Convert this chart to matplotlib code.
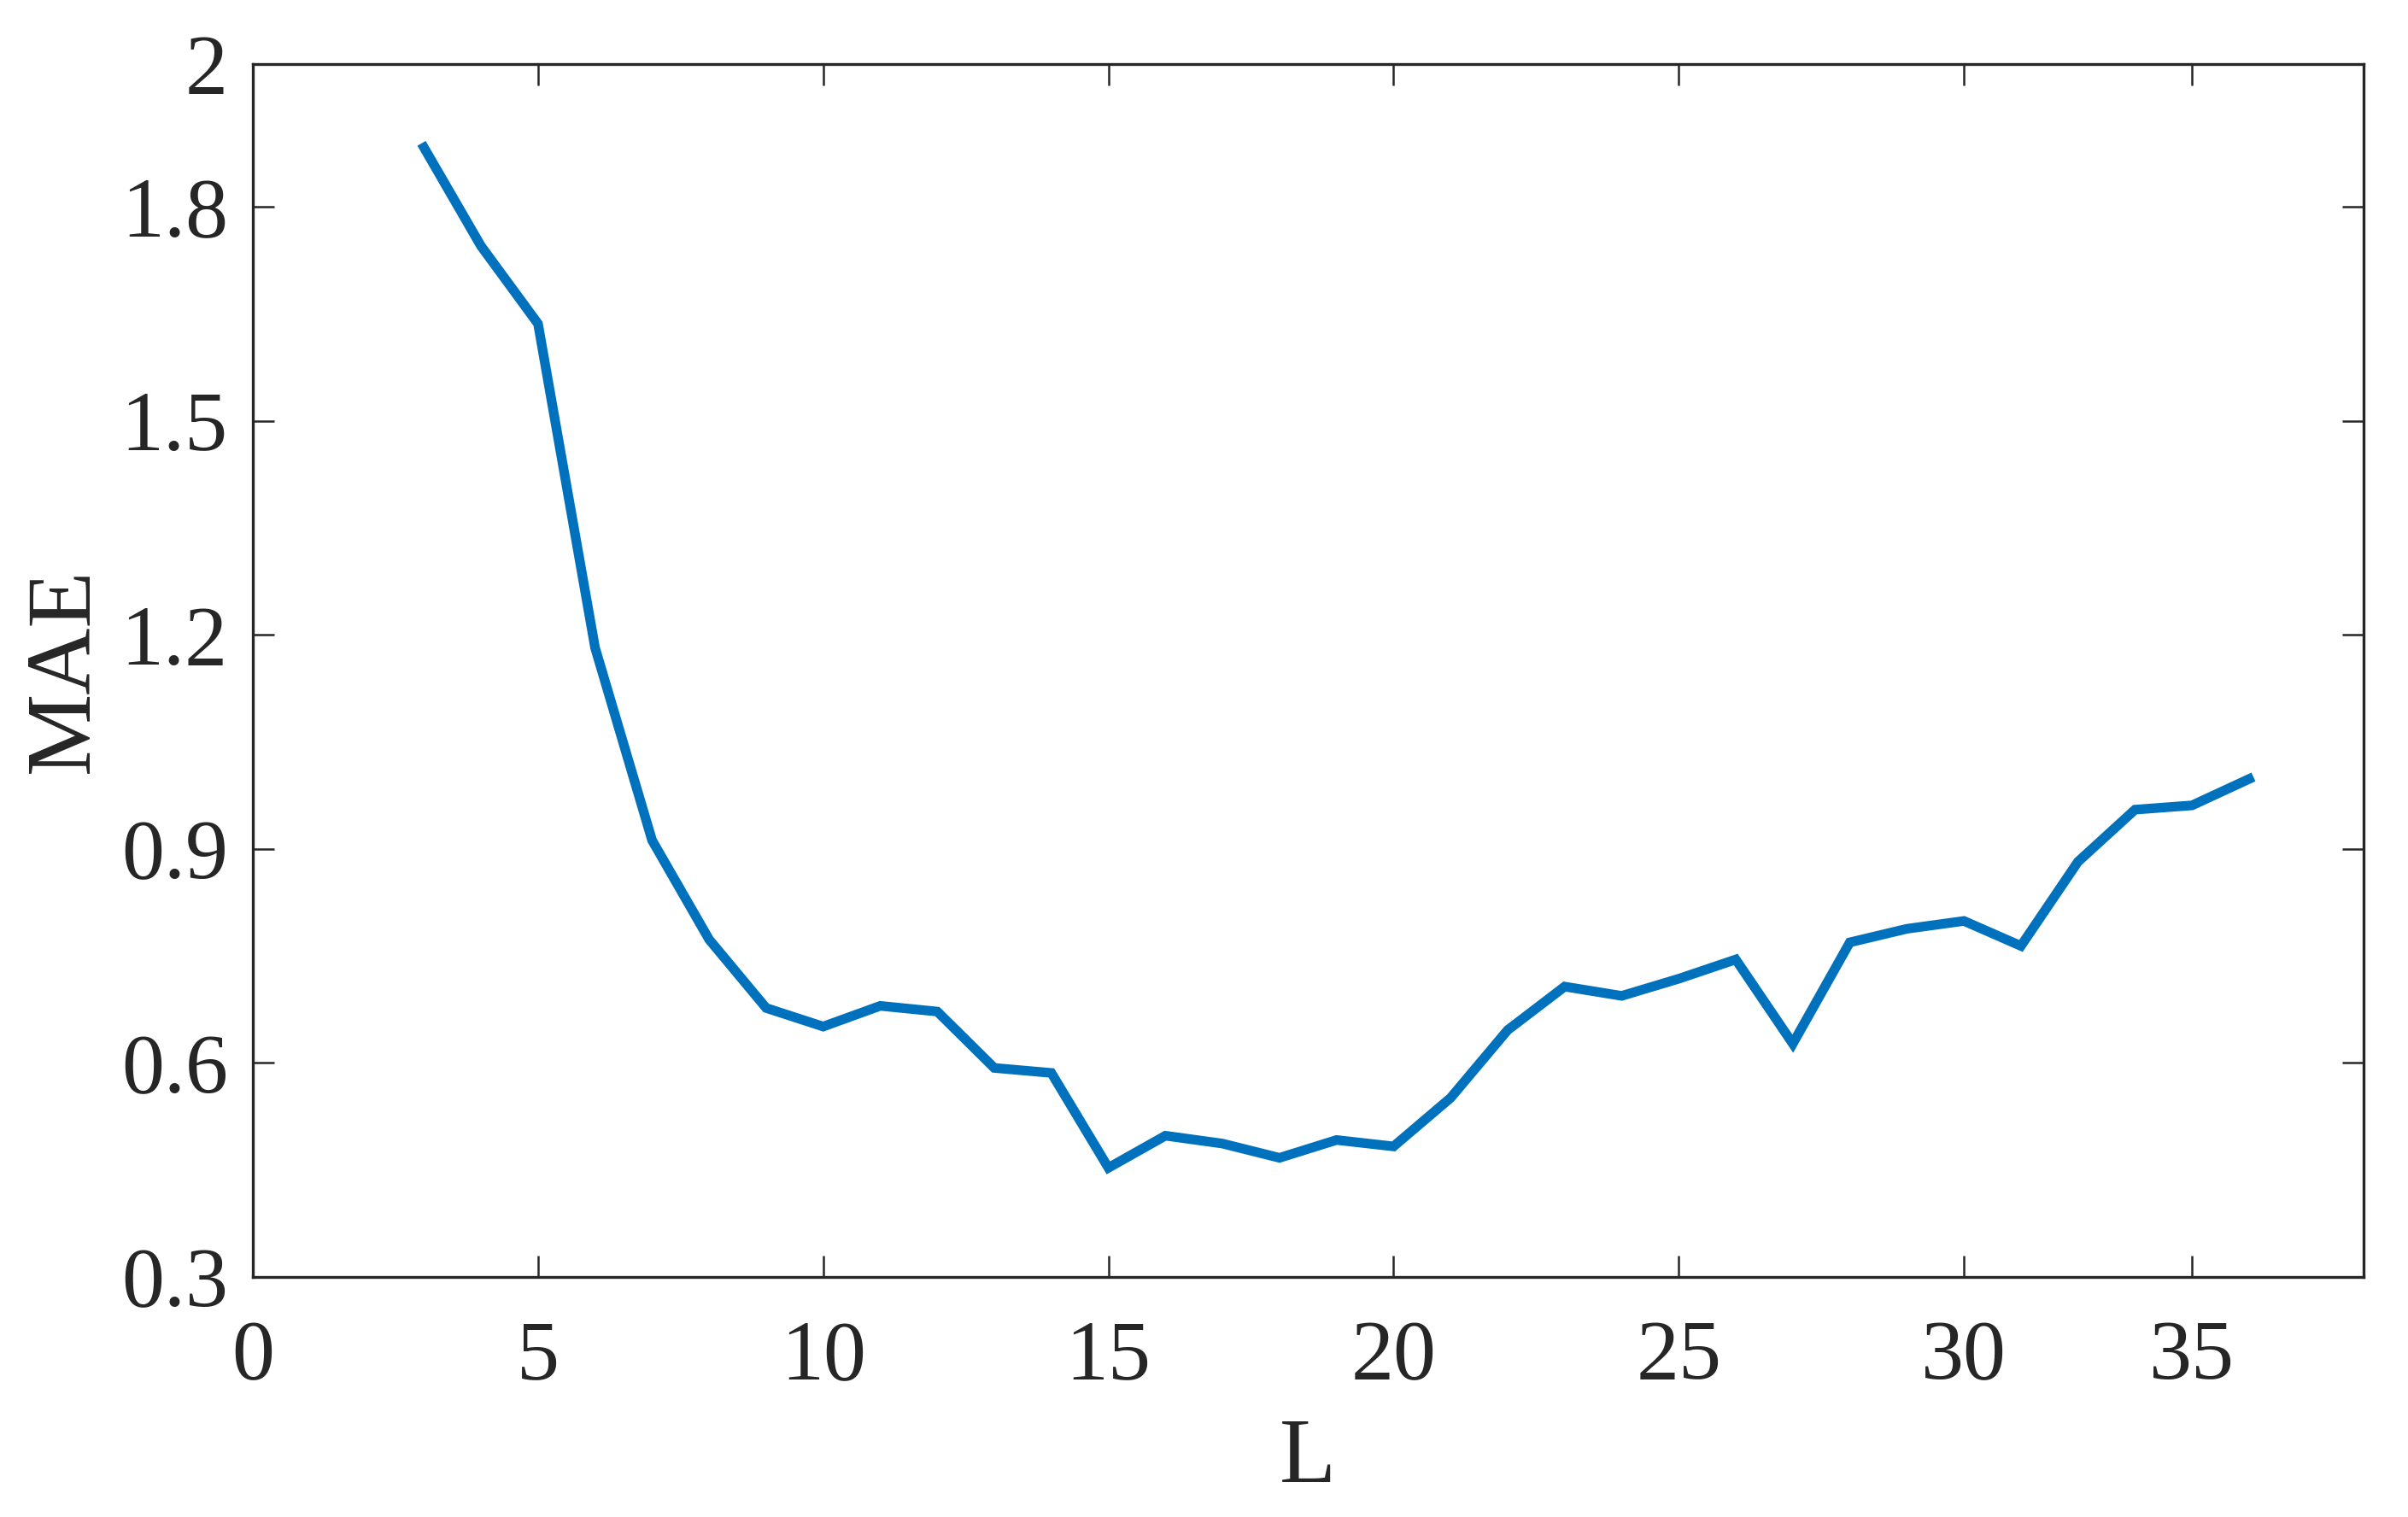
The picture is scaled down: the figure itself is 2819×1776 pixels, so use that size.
import matplotlib
matplotlib.use("Agg")
import matplotlib.pyplot as plt

# ---- data ----
L_values = list(range(3, 36))
mae_values = [1.883, 1.745, 1.636, 1.182, 0.912, 0.773, 0.677, 0.651, 0.680,
              0.672, 0.593, 0.586, 0.453, 0.498, 0.487, 0.467, 0.492, 0.483,
              0.551, 0.646, 0.707, 0.694, 0.718, 0.745, 0.627, 0.769, 0.788,
              0.799, 0.764, 0.882, 0.955, 0.961, 0.998]

x_tick_pos = [0, 5, 10, 15, 20, 25, 30, 34]
x_tick_labels = ["0", "5", "10", "15", "20", "25", "30", "35"]
y_tick_pos = [0.3, 0.6, 0.9, 1.2, 1.5, 1.8, 2.0]
y_tick_labels = ["0.3", "0.6", "0.9", "1.2", "1.5", "1.8", "2"]

x_label = "L"
y_label = "MAE"

# ---- style ----
plt.rcParams["font.family"] = ["Liberation Serif", "DejaVu Serif"]
text_color = "#262626"
line_color = "#0072BD"

W, H, DPI = 2819, 1776, 300
fig = plt.figure(figsize=(W / DPI, H / DPI), dpi=DPI)
ax = fig.add_axes([296 / W, 1 - 1495 / H, (2766.5 - 296) / W, (1495 - 75) / H])

ax.plot(L_values, mae_values, color=line_color, linewidth=2.7,
        solid_joinstyle="miter")

ax.set_xlim(0, 37)
ax.set_ylim(0.3, 2.0)
ax.set_xticks(x_tick_pos)
ax.set_xticklabels(x_tick_labels)
ax.set_yticks(y_tick_pos)
ax.set_yticklabels(y_tick_labels)

ax.tick_params(axis="both", which="both", direction="in", length=6, width=0.6,
               colors=text_color, labelsize=24, top=True, right=True)
ax.tick_params(axis="x", pad=12)
ax.tick_params(axis="y", pad=7)
for s in ax.spines.values():
    s.set_linewidth(0.8)
    s.set_color(text_color)

ax.set_xlabel(x_label, fontsize=26, color=text_color, labelpad=6)
ax.set_ylabel(y_label, fontsize=26, color=text_color)
ax.yaxis.set_label_coords(-0.069, 0.5)

fig.savefig("out.png", dpi=DPI, facecolor="white")
